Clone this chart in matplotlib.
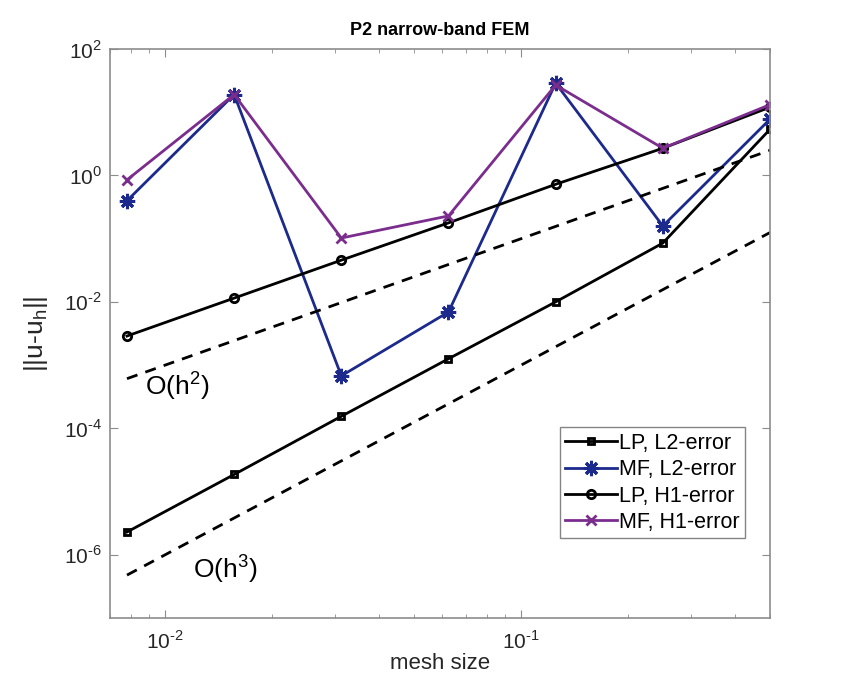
import numpy as np
import matplotlib
matplotlib.use("Agg")
import matplotlib.pyplot as plt

plt.rcParams['font.family'] = ['Liberation Sans', 'DejaVu Sans']
plt.rcParams['mathtext.fontset'] = 'custom'
plt.rcParams['mathtext.rm'] = 'Liberation Sans'

# mesh sizes
h = [0.0078125, 0.015625, 0.03125, 0.0625, 0.125, 0.25, 0.5]

# log10 of errors
lp_l2_log = [-5.64, -4.73, -3.81, -2.90, -2.00, -1.07, 0.73]
mf_l2_log = [-0.40, 1.28, -3.17, -2.16, 1.46, -0.80, 0.89]
lp_h1_log = [-2.54, -1.94, -1.34, -0.75, -0.14, 0.43, 1.08]
mf_h1_log = [-0.07, 1.28, -0.99, -0.64, 1.43, 0.43, 1.12]

xtick_vals = [1e-2, 1e-1]
xtick_exp = ['-2', '-1']
ytick_vals = [1e-6, 1e-4, 1e-2, 1e0, 1e2]
ytick_exp = ['-6', '-4', '-2', '0', '2']

h = np.array(h)
lp_l2 = 10.0 ** np.array(lp_l2_log)
mf_l2 = 10.0 ** np.array(mf_l2_log)
lp_h1 = 10.0 ** np.array(lp_h1_log)
mf_h1 = 10.0 ** np.array(mf_h1_log)

blue = '#1b2a8c'
purple = '#7b2d8e'
axcol = '#8c8c8c'
txtcol = '#262626'


def pow_label(e):
    # plain hyphen instead of the long math minus
    return '10$^{\\mathrm{' + e.replace('-', '\u2010') + '}}$'


fig = plt.figure(figsize=(8.52, 6.89), dpi=100)
ax = fig.add_axes([110 / 852, 1 - 618 / 689, 660 / 852, 569 / 689])

ax.loglog(h, lp_l2, '-s', color='k', lw=2, ms=5, mfc='none', mew=2, label='LP, L2-error')
ax.loglog(h, mf_l2, '-', marker=(8, 2, 0), color=blue, lw=2, ms=11, mew=2.2, label='MF, L2-error')
ax.loglog(h, lp_h1, '-o', color='k', lw=2, ms=6, mfc='none', mew=2, label='LP, H1-error')
ax.loglog(h, mf_h1, '-x', color=purple, lw=2, ms=7, mew=2, label='MF, H1-error')

# reference slopes
ax.loglog(h, 10 * h ** 2, '--', color='k', lw=2, dashes=(4, 3))
ax.loglog(h, h ** 3, '--', color='k', lw=2, dashes=(4, 3))

ax.text(0.0088, 4.8e-4, r'O(h$^2$)', fontsize=19, color='k', ha='left', va='center')
ax.text(0.0120, 6.0e-7, r'O(h$^3$)', fontsize=19, color='k', ha='left', va='center')

ax.set_xlim(0.007, 0.5)
ax.set_ylim(1e-7, 1e2)
ax.set_xticks(xtick_vals)
ax.set_xticklabels([pow_label(e) for e in xtick_exp])
ax.set_yticks(ytick_vals)
ax.set_yticklabels([pow_label(e) for e in ytick_exp])

for s in ax.spines.values():
    s.set_color(axcol)
    s.set_linewidth(1.2)
ax.tick_params(which='both', direction='in', top=True, right=True, color=axcol,
               labelcolor=txtcol, labelsize=15)
ax.tick_params(which='major', length=6)
ax.tick_params(which='minor', length=3)
ax.tick_params(axis='x', pad=9)
ax.tick_params(axis='y', pad=6)
ax.tick_params(axis='y', which='minor', left=False, right=False)

ax.set_title('P2 narrow-band FEM', fontsize=13, fontweight='bold', color='k', pad=10)
ax.set_xlabel('mesh size', fontsize=16, color=txtcol, labelpad=0)
ax.set_ylabel(r'||u-u$_\mathrm{h}$||', fontsize=19, color=txtcol, labelpad=10)

leg = ax.legend(loc='lower right', bbox_to_anchor=(0.962, 0.14), fontsize=15.5,
                frameon=True, fancybox=False, handlelength=2.4, handletextpad=0.1,
                borderpad=0.25, labelspacing=0.25, borderaxespad=0)
leg.get_frame().set_edgecolor('#666666')
leg.get_frame().set_linewidth(1)

fig.savefig('out.png', dpi=100)
